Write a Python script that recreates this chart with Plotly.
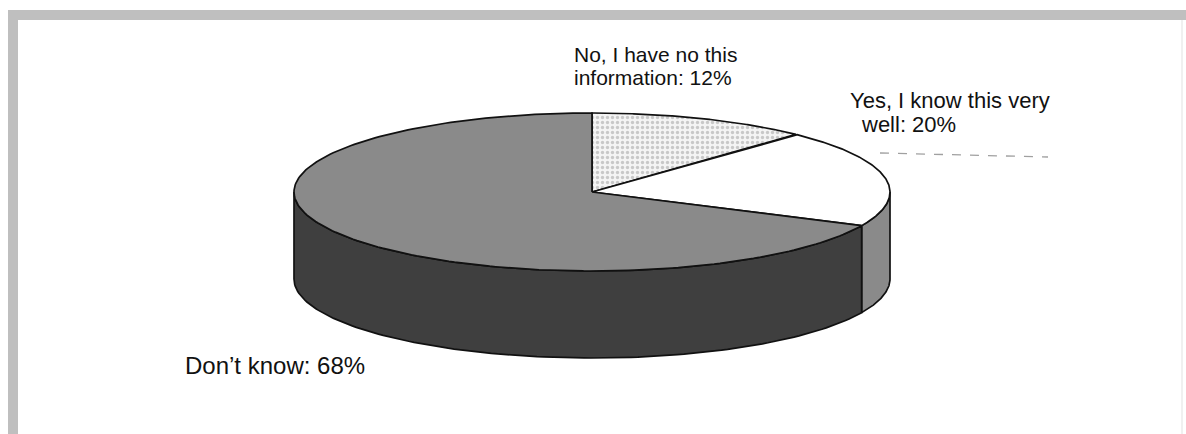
import numpy as np
import plotly.graph_objects as go

# Survey answers (split into the printed lines) and their shares (percent)
answer_lines = [["No, I have no this", "information"],
                ["Yes, I know this very", "well"],
                ["Don’t know"]]
shares = [12, 20, 68]

# Fill styles per answer: top face and side wall
top_fill = ["#f2f2f2", "#ffffff", "#8a8a8a"]
side_fill = ["#8a8a8a", "#8a8a8a", "#3f3f3f"]

W, H = 1186, 434
CX, CY = 592, 192       # centre of the top face (px)
RX, RY = 298, 79        # ellipse radii
DEPTH = 87              # thickness of the disc
OUTLINE = dict(color="#111111", width=1.7)


def rim(theta_deg, drop=0.0):
    """Point on the ellipse, angle measured clockwise from 12 o'clock."""
    t = np.radians(theta_deg)
    return CX + RX * np.sin(t), CY - RY * np.cos(t) + drop


fig = go.Figure()

total = float(sum(shares))
edges = np.concatenate([[0.0], np.cumsum(shares) / total * 360.0])

# Side walls: only the front half (90..270 degrees) is visible
for i in range(len(shares)):
    a, b = max(edges[i], 90.0), min(edges[i + 1], 270.0)
    if a >= b:
        continue
    th = np.linspace(a, b, 120)
    xt, yt = rim(th)
    xb, yb = rim(th[::-1], DEPTH)
    fig.add_trace(go.Scatter(
        x=np.concatenate([xt, xb, xt[:1]]),
        y=np.concatenate([yt, yb, yt[:1]]),
        mode="lines", fill="toself", fillcolor=side_fill[i],
        line=OUTLINE, hoverinfo="skip", showlegend=False))

# Top face slices
for i in range(len(shares)):
    th = np.linspace(edges[i], edges[i + 1], 200)
    xs, ys = rim(th)
    x = np.concatenate([[CX], xs, [CX]])
    y = np.concatenate([[CY], ys, [CY]])
    kw = {}
    if i == 0:
        kw["fillpattern"] = dict(shape=".", bgcolor="#f4f4f4", fgcolor="#9c9c9c",
                                 size=5, solidity=0.35)
    fig.add_trace(go.Scatter(
        x=x, y=y, mode="lines", fill="toself", fillcolor=top_fill[i],
        line=OUTLINE, hoverinfo="skip", showlegend=False, **kw))

# Labels: (x of each line, y of first line, line step, font size)
label_layout = [([572, 572], 54, 23, 21),
                ([848, 859], 100, 24, 22),
                ([183], 365, 0, 24)]
for lines, val, (xs, y0, step, size) in zip(answer_lines, shares, label_layout):
    for k, line in enumerate(lines):
        text = line + (f": {val}%" if k == len(lines) - 1 else "")
        fig.add_annotation(x=xs[k], y=y0 + k * step, text=text, showarrow=False,
                           xanchor="left", yanchor="middle",
                           font=dict(family="Liberation Sans, Arial, sans-serif",
                                     size=size, color="#111111"))

# Faint leader under the "Yes" label
fig.add_shape(type="line", x0=880, y0=153, x1=1048, y1=157,
              line=dict(color="#a0a0a0", width=1.3, dash="dash"))

# Frame
fig.add_shape(type="rect", x0=8, y0=10, x1=W, y1=20,
              fillcolor="#bfbfbf", line=dict(width=0), layer="below")
fig.add_shape(type="rect", x0=8, y0=10, x1=18, y1=H,
              fillcolor="#bfbfbf", line=dict(width=0), layer="below")
fig.add_shape(type="line", x0=1182, y0=20, x1=1182, y1=H,
              line=dict(color="#f0f0f0", width=2), layer="below")

fig.update_xaxes(range=[0, W], visible=False, fixedrange=True)
fig.update_yaxes(range=[H, 0], visible=False, fixedrange=True)
fig.update_layout(width=W, height=H, margin=dict(l=0, r=0, t=0, b=0),
                  paper_bgcolor="white", plot_bgcolor="white")

fig.write_html("out.html")
